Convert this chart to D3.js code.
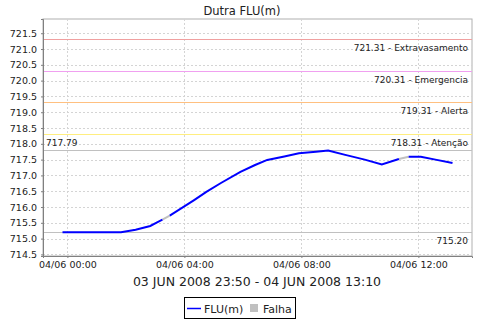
<!DOCTYPE html>
<html>
<head>
<meta charset="utf-8">
<script src="https://cdn.jsdelivr.net/npm/d3@7"></script>
<style>
  body { margin: 0; background: #fff; }
  text { font-family: "DejaVu Sans", sans-serif; fill: #222; }
</style>
</head>
<body>
<div id="chart"></div>
<script>
// readings of FLU(m), every point
const times = [
  '2008-06-03T23:50', '2008-06-04T01:50', '2008-06-04T02:20', '2008-06-04T02:50',
  '2008-06-04T03:05', '2008-06-04T03:15', '2008-06-04T03:30', '2008-06-04T03:55',
  '2008-06-04T04:20', '2008-06-04T04:45', '2008-06-04T05:15', '2008-06-04T05:55',
  '2008-06-04T06:25', '2008-06-04T06:50', '2008-06-04T07:25', '2008-06-04T07:55',
  '2008-06-04T08:30', '2008-06-04T08:55', '2008-06-04T09:30', '2008-06-04T10:10',
  '2008-06-04T10:45', '2008-06-04T11:20', '2008-06-04T11:40', '2008-06-04T12:05',
  '2008-06-04T12:35', '2008-06-04T13:10',
];
const fluValues = [
  715.20, 715.20, 715.28, 715.40,
  715.52, 715.60, 715.73, 715.97,
  716.22, 716.48, 716.76, 717.11,
  717.33, 717.49, 717.60, 717.70,
  717.75, 717.79, 717.65, 717.50,
  717.35, 717.52, 717.59, 717.59,
  717.50, 717.39,
];
// readings where a gap (Falha) starts, gap runs to the next reading
const falhaStarts = ['2008-06-04T03:15', '2008-06-04T11:20'];

// level markers
const levelValues = [721.31, 720.31, 719.31, 718.31];
const levelNames = ['Extravasamento', 'Emergencia', 'Alerta', 'Atenção'];
const levelColors = ['#f0a0a0', '#f0a0f0', '#ffc080', '#ffee80'];
const maxValue = 717.79;
const minValue = 715.20;

const legendNames = ['FLU(m)', 'Falha'];
const titleText = 'Dutra FLU(m)';
const subtitleText = '03 JUN 2008 23:50 - 04 JUN 2008 13:10';

const width = 480;
const height = 320;
const margin = { top: 19, right: 8, bottom: 64, left: 43 };

const parse = d3.timeParse('%Y-%m-%dT%H:%M');
const data = times.map((t, i) => ({ t: parse(t), v: fluValues[i] }));
const gapSet = new Set(falhaStarts.map(t => +parse(t)));

const svg = d3.select('#chart')
  .append('svg')
  .attr('width', width)
  .attr('height', height);

const x = d3.scaleTime()
  .domain([parse('2008-06-03T23:10'), parse('2008-06-04T13:50')])
  .range([margin.left, width - margin.right]);

const y = d3.scaleLinear()
  .domain([714.45, 721.95])
  .range([height - margin.bottom, margin.top]);

const plotW = width - margin.right - margin.left;
const plotH = height - margin.bottom - margin.top;

// title
svg.append('text')
  .attr('x', 242)
  .attr('y', 15)
  .attr('text-anchor', 'middle')
  .style('font-size', '11.5px')
  .text(titleText);

// plot background
svg.append('rect')
  .attr('x', margin.left)
  .attr('y', margin.top)
  .attr('width', plotW)
  .attr('height', plotH)
  .attr('fill', '#fff')
  .attr('stroke', '#b0b0b0');

const yTicks = d3.range(714.5, 721.51, 0.5);
const xTicks = d3.timeHour.every(4).range(x.domain()[0], x.domain()[1]);

// grid
svg.append('g')
  .selectAll('line')
  .data(yTicks)
  .join('line')
  .attr('x1', margin.left)
  .attr('x2', width - margin.right)
  .attr('y1', d => Math.round(y(d)) + 0.5)
  .attr('y2', d => Math.round(y(d)) + 0.5)
  .attr('stroke', '#d4d4d4')
  .attr('stroke-dasharray', '2,2');

svg.append('g')
  .selectAll('line')
  .data(xTicks)
  .join('line')
  .attr('x1', d => Math.round(x(d)) + 0.5)
  .attr('x2', d => Math.round(x(d)) + 0.5)
  .attr('y1', margin.top)
  .attr('y2', height - margin.bottom)
  .attr('stroke', '#d4d4d4')
  .attr('stroke-dasharray', '2,2');

// level lines and labels
const levels = svg.append('g');
levels.selectAll('line')
  .data(levelValues)
  .join('line')
  .attr('x1', margin.left)
  .attr('x2', width - margin.right)
  .attr('y1', d => Math.round(y(d)) + 0.5)
  .attr('y2', d => Math.round(y(d)) + 0.5)
  .attr('stroke', (d, i) => levelColors[i]);

levels.selectAll('text')
  .data(levelValues)
  .join('text')
  .attr('x', width - margin.right - 4)
  .attr('y', d => y(d) + 12)
  .attr('text-anchor', 'end')
  .style('font-size', '9px')
  .text((d, i) => `${d3.format('.2f')(d)} - ${levelNames[i]}`);

// max / min markers
svg.append('line')
  .attr('x1', margin.left)
  .attr('x2', width - margin.right)
  .attr('y1', Math.round(y(maxValue)) + 0.5)
  .attr('y2', Math.round(y(maxValue)) + 0.5)
  .attr('stroke', '#c0c0c0');
svg.append('text')
  .attr('x', margin.left + 3)
  .attr('y', y(maxValue) - 4)
  .style('font-size', '9px')
  .text(d3.format('.2f')(maxValue));

svg.append('line')
  .attr('x1', margin.left)
  .attr('x2', width - margin.right)
  .attr('y1', Math.round(y(minValue)) + 0.5)
  .attr('y2', Math.round(y(minValue)) + 0.5)
  .attr('stroke', '#c0c0c0');
svg.append('text')
  .attr('x', width - margin.right - 4)
  .attr('y', y(minValue) + 12)
  .attr('text-anchor', 'end')
  .style('font-size', '9px')
  .text(d3.format('.2f')(minValue));

// series: gray for gaps, blue elsewhere
const line = d3.line()
  .defined(d => d !== null)
  .x(d => x(d.t))
  .y(d => y(d.v));

const bluePts = [];
const grayPts = [];
data.forEach((d, i) => {
  bluePts.push(d);
  if (gapSet.has(+d.t) && i < data.length - 1) {
    bluePts.push(null);
    grayPts.push(d, data[i + 1], null);
  }
});

svg.append('path')
  .datum(grayPts)
  .attr('d', line)
  .attr('fill', 'none')
  .attr('stroke', '#c0c0c0')
  .attr('stroke-width', 2);

svg.append('path')
  .datum(bluePts)
  .attr('d', line)
  .attr('fill', 'none')
  .attr('stroke', '#0000ff')
  .attr('stroke-width', 2);

// axes
const yAxis = svg.append('g')
  .attr('transform', `translate(${margin.left},0)`)
  .call(d3.axisLeft(y).tickValues(yTicks).tickFormat(d3.format('.1f')).tickSize(2).tickPadding(4));
yAxis.select('.domain').attr('stroke', '#808080');
yAxis.selectAll('.tick line').attr('stroke', '#808080');
yAxis.selectAll('text').style('font-size', '9.5px').attr('fill', '#222').style('font-family', '"DejaVu Sans", sans-serif');

const xAxis = svg.append('g')
  .attr('transform', `translate(0,${height - margin.bottom})`)
  .call(d3.axisBottom(x).tickValues(xTicks).tickFormat(d3.timeFormat('%d/%m %H:%M')).tickSize(2).tickPadding(3));
xAxis.select('.domain').attr('stroke', '#808080');
xAxis.selectAll('.tick line').attr('stroke', '#808080');
xAxis.selectAll('text').style('font-size', '9.5px').attr('fill', '#222').style('font-family', '"DejaVu Sans", sans-serif');

// subtitle
svg.append('text')
  .attr('x', 257)
  .attr('y', 286)
  .attr('text-anchor', 'middle')
  .style('font-size', '12.5px')
  .text(subtitleText);

// legend
const legend = svg.append('g');
legend.append('rect')
  .attr('x', 184.5)
  .attr('y', 297.5)
  .attr('width', 111)
  .attr('height', 21)
  .attr('fill', '#fff')
  .attr('stroke', '#000');
legend.append('line')
  .attr('x1', 187)
  .attr('x2', 201)
  .attr('y1', 308.5)
  .attr('y2', 308.5)
  .attr('stroke', '#0000ff')
  .attr('stroke-width', 1.5);
legend.append('text')
  .attr('x', 204)
  .attr('y', 312.5)
  .style('font-size', '11px')
  .text(legendNames[0]);
legend.append('rect')
  .attr('x', 250)
  .attr('y', 304)
  .attr('width', 8)
  .attr('height', 8)
  .attr('fill', '#c0c0c0');
legend.append('text')
  .attr('x', 263)
  .attr('y', 312.5)
  .style('font-size', '11px')
  .text(legendNames[1]);
</script>
</body>
</html>
